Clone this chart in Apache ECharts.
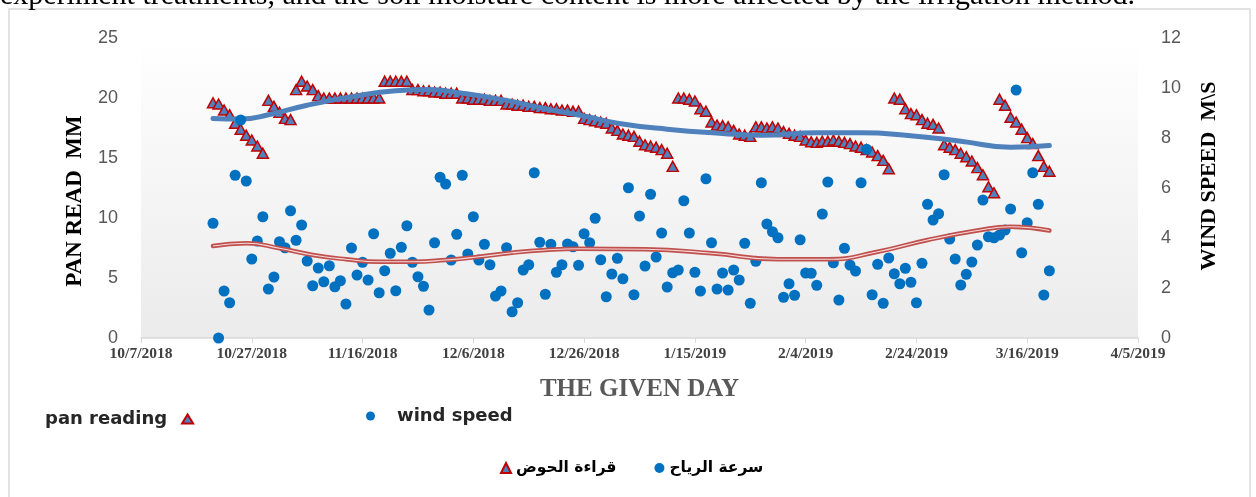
<!DOCTYPE html>
<html>
<head>
<meta charset="utf-8">
<script src="https://cdn.jsdelivr.net/npm/echarts@6/dist/echarts.min.js"></script>
<style>
html, body { margin: 0; padding: 0; background: #fff; }
#chart { width: 1256px; height: 497px; }
</style>
</head>
<body>
<div id="chart"></div>
<script>
// x axis: 10/7/2018 .. 4/5/2019, a label every 20 days
const axisStart = '2018-10-07';
const axisEnd = '2019-04-05';
const tickDays = 20;

// daily readings, first one on 10/20/2018
const firstDay = '2018-10-20';

// pan reading, mm (left axis)
const panReading = [
  19.6, 19.5, 19.0, 18.6, 17.9, 17.4, 16.9, 16.5, 16.0, 15.4,
  19.8, 19.3, 18.8, 18.3, 18.2,
  20.7, 21.4, 21.0, 20.7, 20.2,
  20.0, 20.0, 20.0, 20.0, 20.0, 20.0, 20.0, 20.0, 20.0, 20.0, 20.0,
  21.4, 21.4, 21.4, 21.4, 21.4,
  20.7, 20.7, 20.6, 20.6, 20.5, 20.5, 20.4, 20.4, 20.4,
  20.0, 20.0, 19.9, 19.9, 19.9, 19.8, 19.8, 19.8,
  19.5, 19.5, 19.4, 19.4, 19.3, 19.3,
  19.2, 19.2, 19.1, 19.1, 19.0, 19.0, 18.9, 18.9,
  18.3, 18.2, 18.1, 18.0, 17.9,
  17.5, 17.3,
  17.0, 16.9, 16.8, 16.4, 16.1, 16.0, 15.9, 15.7, 15.4, 14.3,
  20.0, 20.0, 19.9, 19.75, 19.1, 18.9, 18.0, 17.75, 17.7, 17.6, 17.3, 17.0, 16.9, 16.8,
  17.6, 17.6, 17.5, 17.6, 17.5, 17.2, 17.05, 16.9, 16.8, 16.5, 16.35, 16.3, 16.4, 16.4,
  16.5, 16.4, 16.3, 16.2, 16.0, 15.9, 15.7, 15.5, 15.2, 14.8, 14.1,
  20.0, 19.9, 19.1, 18.7, 18.6, 18.2, 17.9, 17.8, 17.5,
  16.1, 15.9, 15.7, 15.4, 15.1, 14.75, 14.2,
  13.6, 12.6, 12.1,
  19.9, 19.4, 18.4, 18.0, 17.4, 16.7, 16.2, 15.2, 14.3, 13.9
];

// wind speed, m/s (right axis)
const windSpeed = [
  4.59, 0, 1.88, 1.41, 6.51, 8.72, 6.28, 3.16, 3.88, 4.85,
  1.96, 2.44, 3.85, 3.61, 5.09, 3.91, 4.52, 3.08, 2.09, 2.8,
  2.25, 2.89, 2.05, 2.29, 1.36, 3.6, 2.52, 3.03, 2.32, 4.17,
  1.81, 2.69, 3.39, 1.89, 3.63, 4.49, 3.03, 2.45, 2.07, 1.12,
  3.81, 6.43, 6.16, 3.12, 4.15, 6.51, 3.36, 4.85, 3.12, 3.75,
  2.93, 1.68, 1.88, 3.61, 1.05, 1.41, 2.72, 2.93, 6.61, 3.83,
  1.75, 3.75, 2.63, 2.93, 3.76, 3.65, 2.91, 4.17, 3.81, 4.79,
  3.13, 1.65, 2.56, 3.19, 2.37, 6.01, 1.73, 4.88, 2.88, 5.75,
  3.24, 4.2, 2.04, 2.61, 2.72, 5.49, 4.2, 2.63, 1.88, 6.37,
  3.81, 1.96, 2.6, 1.92, 2.72, 2.32, 3.79, 1.39, 3.07, 6.21,
  4.56, 4.25, 4.01, 1.63, 2.17, 1.71, 3.93, 2.6, 2.59, 2.11,
  4.96, 6.24, 3.01, 1.52, 3.59, 2.92, 2.68, 6.21, 7.55, 1.73,
  2.95, 1.39, 3.2, 2.57, 2.17, 2.79, 2.23, 1.41, 2.99, 5.35,
  4.72, 4.97, 6.53, 3.96, 3.16, 2.12, 2.55, 3.04, 3.72, 5.52,
  4.05, 4.01, 4.12, 4.32, 5.16, 9.92, 3.41, 4.61, 6.61, 5.35,
  1.72, 2.69
];

// trend curves
const panTrendDates = ['2018-10-20', '2018-10-25', '2018-10-30', '2018-11-06', '2018-11-14',
  '2018-11-22', '2018-11-28', '2018-12-04', '2018-12-12', '2018-12-19', '2018-12-26',
  '2019-01-01', '2019-01-10', '2019-01-20', '2019-01-27', '2019-02-06', '2019-02-14',
  '2019-02-22', '2019-03-04', '2019-03-13', '2019-03-20'];
const panTrendValues = [18.3, 18.25, 18.6, 19.4, 20.1, 20.6, 20.7, 20.4, 19.8, 19.1, 18.5,
  17.9, 17.4, 17.05, 16.9, 17.1, 17.1, 16.9, 16.4, 15.9, 16.05];

const windTrendDates = ['2018-10-20', '2018-10-26', '2018-11-01', '2018-11-07', '2018-11-13',
  '2018-11-19', '2018-11-25', '2018-12-01', '2018-12-07', '2018-12-13', '2018-12-19',
  '2018-12-25', '2019-01-06', '2019-01-18', '2019-01-30', '2019-02-08', '2019-02-17',
  '2019-02-26', '2019-03-07', '2019-03-13', '2019-03-20'];
const windTrendValues = [3.68, 3.79, 3.59, 3.32, 3.15, 3.05, 3.05, 3.12, 3.25, 3.41, 3.52,
  3.57, 3.55, 3.39, 3.15, 3.15, 3.45, 3.92, 4.3, 4.45, 4.3];

const panName = 'قراءة الحوض';
const windName = 'سرعة الرياح';
const englishNames = {};
englishNames[panName] = 'pan reading';
englishNames[windName] = 'wind speed';

const DAY = 86400000;
function dayOf(s) {
  return Math.round((Date.parse(s) - Date.parse(axisStart)) / DAY);
}
function dateLabel(d) {
  let t = new Date(Date.parse(axisStart) + d * DAY);
  return (t.getUTCMonth() + 1) + '/' + t.getUTCDate() + '/' + t.getUTCFullYear();
}

const first = dayOf(firstDay);
const panData = panReading.map((v, i) => [first + i, v]);
const windData = windSpeed.map((v, i) => [first + i, v]);
const panTrend = panTrendDates.map((d, i) => [dayOf(d), panTrendValues[i]]);
const windTrend = windTrendDates.map((d, i) => [dayOf(d), windTrendValues[i]]);

let chart = echarts.init(document.getElementById('chart'));
let option = {
  animation: false,
  graphic: [
    {
      type: 'rect',
      shape: { x: 9, y: 9, width: 1241, height: 496 },
      style: { fill: 'none', stroke: '#d9d9d9', lineWidth: 1.5 }
    },
    {
      // tail of the page text above the chart, cut off by the crop
      type: 'text',
      x: 0,
      y: -19,
      style: {
        text: 'experiment treatments, and the soil moisture content is more affected by the irrigation method.',
        font: '30px "Liberation Serif"',
        fill: '#000'
      }
    }
  ],
  legend: [
    {
      data: [panName],
      left: 40,
      top: 405,
      align: 'right',
      itemWidth: 11,
      itemHeight: 9,
      formatter: name => englishNames[name],
      textStyle: {
        fontFamily: 'DejaVu Sans', fontWeight: 'bold', fontSize: 18, color: '#262626',
        padding: [0, 10, 0, 0]
      }
    },
    {
      data: [windName],
      left: 361,
      top: 402,
      align: 'left',
      itemWidth: 9,
      itemHeight: 9,
      formatter: name => englishNames[name],
      textStyle: {
        fontFamily: 'DejaVu Sans', fontWeight: 'bold', fontSize: 18, color: '#262626',
        padding: [0, 0, 0, 17]
      }
    },
    {
      data: [panName, windName],
      left: 495,
      top: 455,
      align: 'left',
      itemWidth: 10,
      itemHeight: 10,
      itemGap: 38,
      textStyle: { fontFamily: 'DejaVu Sans', fontWeight: 'bold', fontSize: 15.5, color: '#000' }
    }
  ],
  grid: {
    left: 141,
    right: 118,
    top: 38,
    bottom: 159,
    outerBoundsMode: 'none',
    show: true,
    borderWidth: 0,
    backgroundColor: new echarts.graphic.LinearGradient(0, 0, 0, 1, [
      { offset: 0, color: '#ffffff' },
      { offset: 1, color: '#ebebeb' }
    ])
  },
  xAxis: {
    type: 'value',
    min: 0,
    max: dayOf(axisEnd),
    interval: tickDays,
    name: 'THE GIVEN DAY',
    nameLocation: 'middle',
    nameGap: 39,
    nameTextStyle: { fontFamily: 'Liberation Serif', fontWeight: 'bold', fontSize: 25, color: '#595959' },
    axisLine: { show: true, lineStyle: { color: '#d9d9d9', width: 1.5 } },
    axisTick: { show: true, length: 5, lineStyle: { color: '#d9d9d9' } },
    splitLine: { show: false },
    axisLabel: {
      formatter: dateLabel,
      margin: 8,
      fontFamily: 'Liberation Serif',
      fontWeight: 'bold',
      fontSize: 15.5,
      color: '#404040',
      showMinLabel: true,
      showMaxLabel: true
    }
  },
  yAxis: [
    {
      type: 'value',
      min: 0,
      max: 25,
      interval: 5,
      name: 'PAN READ  MM',
      nameLocation: 'middle',
      nameRotate: 90,
      nameGap: 54,
      nameTextStyle: {
        fontFamily: 'Liberation Serif', fontWeight: 'bold', fontSize: 23, color: '#000',
        padding: [0, 26, 0, 0]
      },
      axisLine: { show: false },
      axisTick: { show: false },
      splitLine: { show: false },
      axisLabel: { margin: 23, fontFamily: 'Liberation Sans', fontSize: 18, color: '#595959' }
    },
    {
      type: 'value',
      min: 0,
      max: 12,
      interval: 2,
      name: 'WIND SPEED  M\\S',
      nameLocation: 'middle',
      nameRotate: 90,
      nameGap: 60,
      nameTextStyle: {
        fontFamily: 'Liberation Serif', fontWeight: 'bold', fontSize: 22, color: '#000',
        padding: [0, 0, 0, 24]
      },
      axisLine: { show: false },
      axisTick: { show: false },
      splitLine: { show: false },
      axisLabel: { margin: 23, fontFamily: 'Liberation Sans', fontSize: 18, color: '#595959' }
    }
  ],
  series: [
    {
      name: panName,
      type: 'scatter',
      yAxisIndex: 0,
      data: panData,
      symbol: 'triangle',
      symbolSize: [11, 10],
      itemStyle: { color: '#4f81bd', borderColor: '#c00000', borderWidth: 1.5, opacity: 1 },
      z: 2
    },
    {
      name: 'pan trend',
      type: 'line',
      yAxisIndex: 0,
      data: panTrend,
      smooth: true,
      showSymbol: false,
      lineStyle: { color: '#4f81bd', width: 5, cap: 'round' },
      z: 3
    },
    {
      name: windName,
      type: 'scatter',
      yAxisIndex: 1,
      data: windData,
      symbol: 'circle',
      symbolSize: 11,
      itemStyle: { color: '#0070c0', opacity: 1 },
      z: 4
    },
    {
      name: 'wind trend',
      type: 'line',
      yAxisIndex: 1,
      data: windTrend,
      smooth: true,
      showSymbol: false,
      lineStyle: { color: '#c0504d', width: 4.5, cap: 'round' },
      z: 5
    },
    {
      name: 'wind trend inner',
      type: 'line',
      yAxisIndex: 1,
      data: windTrend,
      smooth: true,
      showSymbol: false,
      lineStyle: { color: 'rgba(255,240,240,0.85)', width: 1.2 },
      z: 6
    }
  ]
};
chart.setOption(option);
</script>
</body>
</html>
